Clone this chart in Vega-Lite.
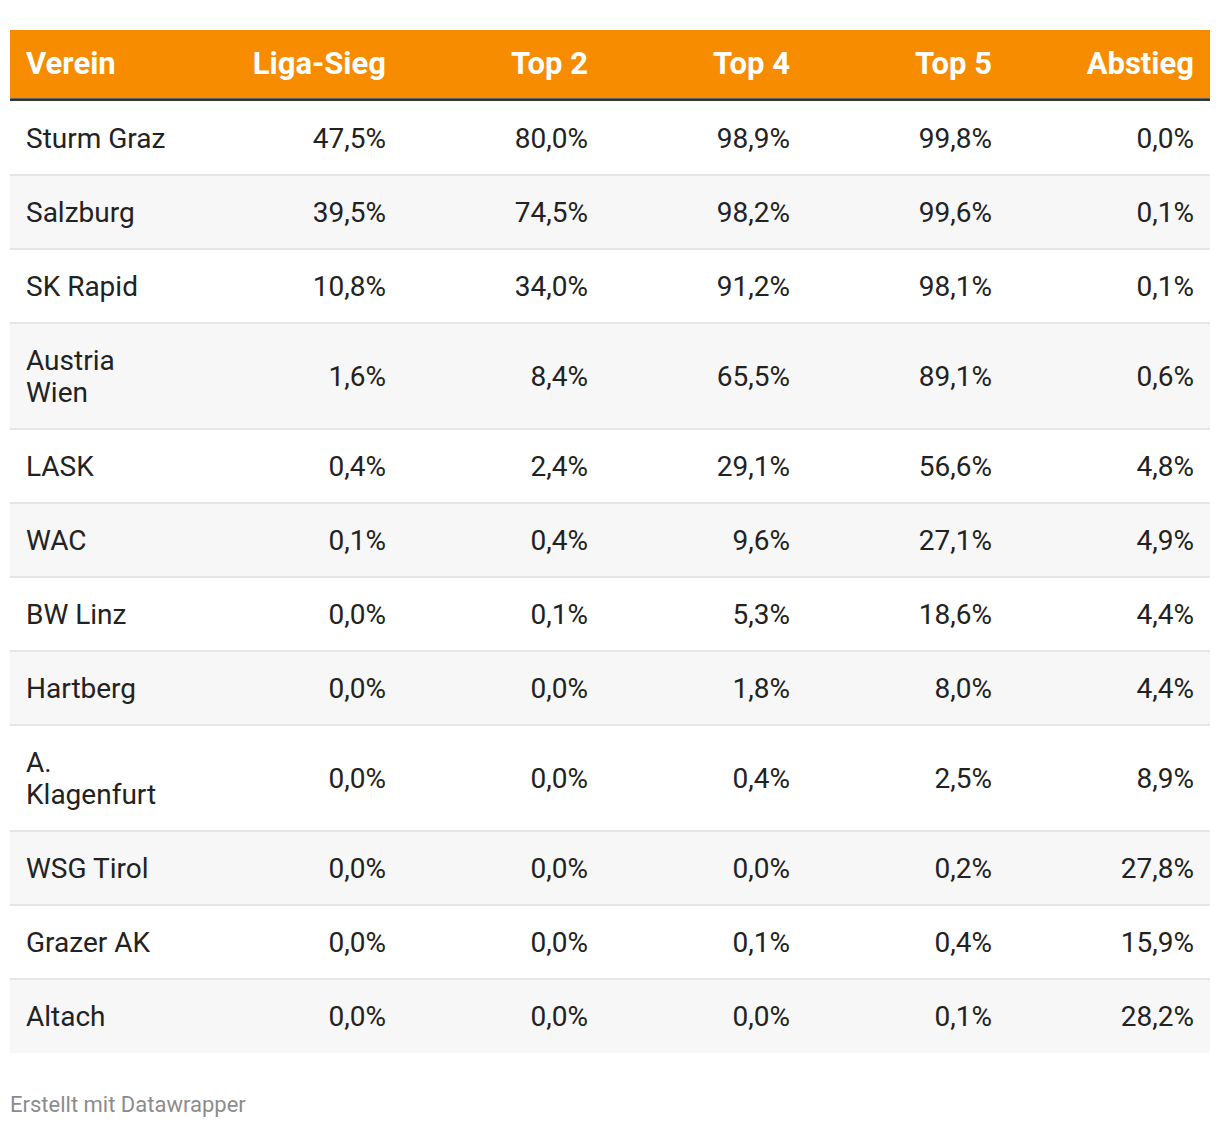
{
  "$schema": "https://vega.github.io/schema/vega-lite/v6.json",
  "width": 1220,
  "height": 1128,
  "autosize": {"type": "fit", "contains": "padding"},
  "padding": 0,
  "background": "#ffffff",
  "config": {"view": {"stroke": null}, "font": "Roboto"},
  "datasets": {
    "rows": [
      {"Verein": "Sturm Graz", "Liga-Sieg": 47.5, "Top 2": 80.0, "Top 4": 98.9, "Top 5": 99.8, "Abstieg": 0.0},
      {"Verein": "Salzburg", "Liga-Sieg": 39.5, "Top 2": 74.5, "Top 4": 98.2, "Top 5": 99.6, "Abstieg": 0.1},
      {"Verein": "SK Rapid", "Liga-Sieg": 10.8, "Top 2": 34.0, "Top 4": 91.2, "Top 5": 98.1, "Abstieg": 0.1},
      {"Verein": "Austria\nWien", "Liga-Sieg": 1.6, "Top 2": 8.4, "Top 4": 65.5, "Top 5": 89.1, "Abstieg": 0.6},
      {"Verein": "LASK", "Liga-Sieg": 0.4, "Top 2": 2.4, "Top 4": 29.1, "Top 5": 56.6, "Abstieg": 4.8},
      {"Verein": "WAC", "Liga-Sieg": 0.1, "Top 2": 0.4, "Top 4": 9.6, "Top 5": 27.1, "Abstieg": 4.9},
      {"Verein": "BW Linz", "Liga-Sieg": 0.0, "Top 2": 0.1, "Top 4": 5.3, "Top 5": 18.6, "Abstieg": 4.4},
      {"Verein": "Hartberg", "Liga-Sieg": 0.0, "Top 2": 0.0, "Top 4": 1.8, "Top 5": 8.0, "Abstieg": 4.4},
      {"Verein": "A.\nKlagenfurt", "Liga-Sieg": 0.0, "Top 2": 0.0, "Top 4": 0.4, "Top 5": 2.5, "Abstieg": 8.9},
      {"Verein": "WSG Tirol", "Liga-Sieg": 0.0, "Top 2": 0.0, "Top 4": 0.0, "Top 5": 0.2, "Abstieg": 27.8},
      {"Verein": "Grazer AK", "Liga-Sieg": 0.0, "Top 2": 0.0, "Top 4": 0.1, "Top 5": 0.4, "Abstieg": 15.9},
      {"Verein": "Altach", "Liga-Sieg": 0.0, "Top 2": 0.0, "Top 4": 0.0, "Top 5": 0.1, "Abstieg": 28.2}
    ],
    "header": [
      {"col": "Liga-Sieg"}, {"col": "Top 2"}, {"col": "Top 4"}, {"col": "Top 5"}, {"col": "Abstieg"}
    ],
    "first": [{"col": "Verein"}],
    "footer": [{"note": "Erstellt mit Datawrapper"}]
  },
  "resolve": {"scale": {"x": "independent"}},
  "layer": [
    {
      "data": {"name": "first"},
      "mark": {"type": "rect", "color": "#f88c00"},
      "encoding": {
        "x": {"datum": 10, "type": "quantitative", "scale": {"domain": [0, 1220]}, "axis": null},
        "x2": {"datum": 1210},
        "y": {"datum": 30, "type": "quantitative", "scale": {"domain": [0, 1128], "reverse": true}, "axis": null},
        "y2": {"datum": 98}
      }
    },
    {
      "data": {"name": "first"},
      "mark": {"type": "rule", "color": "#333333", "strokeWidth": 3.5},
      "encoding": {
        "x": {"datum": 10, "type": "quantitative", "scale": {"domain": [0, 1220]}, "axis": null},
        "x2": {"datum": 1210},
        "y": {"datum": 100, "type": "quantitative", "scale": {"domain": [0, 1128], "reverse": true}, "axis": null}
      }
    },
    {
      "data": {"name": "first"},
      "mark": {"type": "text", "align": "left", "baseline": "middle", "fontSize": 31, "fontWeight": "bold", "color": "#ffffff", "dy": 0.5},
      "encoding": {
        "x": {"value": 26},
        "y": {"datum": 64, "type": "quantitative", "scale": {"domain": [0, 1128], "reverse": true}, "axis": null},
        "text": {"field": "col"}
      }
    },
    {
      "data": {"name": "header"},
      "mark": {"type": "text", "align": "right", "baseline": "middle", "fontSize": 31, "fontWeight": "bold", "color": "#ffffff", "dy": 0.5},
      "encoding": {
        "x": {"field": "col", "type": "nominal", "sort": null, "scale": {"type": "point", "domain": ["Liga-Sieg", "Top 2", "Top 4", "Top 5", "Abstieg"], "range": [386, 1194], "padding": 0}, "axis": null},
        "y": {"datum": 64, "type": "quantitative", "scale": {"domain": [0, 1128], "reverse": true}, "axis": null},
        "text": {"field": "col"}
      }
    },
    {
      "data": {"name": "rows"},
      "transform": [
        {"window": [{"op": "row_number", "as": "idx"}]},
        {"calculate": "length(split(datum.Verein, '\\n'))", "as": "nl"},
        {"calculate": "42 + 32 * datum.nl", "as": "h"},
        {"window": [{"op": "sum", "field": "h", "as": "cum"}], "sort": [{"field": "idx"}], "frame": [null, 0]},
        {"calculate": "101 + datum.cum - datum.h", "as": "top"},
        {"calculate": "101 + datum.cum", "as": "bottom"},
        {"calculate": "(datum.top + datum.bottom) / 2", "as": "mid"},
        {"calculate": "datum.mid - 16 * (datum.nl - 1)", "as": "nameY"}
      ],
      "layer": [
        {
          "mark": {"type": "rect"},
          "encoding": {
            "x": {"datum": 10, "type": "quantitative", "scale": {"domain": [0, 1220]}, "axis": null},
            "x2": {"datum": 1210},
            "y": {"field": "top", "type": "quantitative", "scale": {"domain": [0, 1128], "reverse": true}, "axis": null},
            "y2": {"field": "bottom"},
            "color": {"condition": {"test": "datum.idx % 2 == 0", "value": "#f7f7f7"}, "value": "#ffffff"}
          }
        },
        {
          "transform": [{"filter": "datum.idx > 1"}],
          "mark": {"type": "rule", "color": "#e6e6e6", "strokeWidth": 2},
          "encoding": {
            "x": {"datum": 10, "type": "quantitative", "scale": {"domain": [0, 1220]}, "axis": null},
            "x2": {"datum": 1210},
            "y": {"field": "top", "type": "quantitative", "scale": {"domain": [0, 1128], "reverse": true}, "axis": null}
          }
        },
        {
          "mark": {"type": "text", "align": "left", "baseline": "middle", "fontSize": 28, "lineHeight": 32, "lineBreak": "\n", "color": "#222222", "dy": 1.5},
          "encoding": {
            "x": {"value": 26},
            "y": {"field": "nameY", "type": "quantitative", "scale": {"domain": [0, 1128], "reverse": true}, "axis": null},
            "text": {"field": "Verein"}
          }
        },
        {
          "transform": [
            {"fold": ["Liga-Sieg", "Top 2", "Top 4", "Top 5", "Abstieg"], "as": ["key", "value"]},
            {"calculate": "replace(format(datum.value, '.1f'), '.', ',') + '%'", "as": "label"}
          ],
          "mark": {"type": "text", "align": "right", "baseline": "middle", "fontSize": 28, "color": "#222222", "dy": 1.5},
          "encoding": {
            "x": {"field": "key", "type": "nominal", "sort": null, "scale": {"type": "point", "domain": ["Liga-Sieg", "Top 2", "Top 4", "Top 5", "Abstieg"], "range": [386, 1194], "padding": 0}, "axis": null},
            "y": {"field": "mid", "type": "quantitative", "scale": {"domain": [0, 1128], "reverse": true}, "axis": null},
            "text": {"field": "label"}
          }
        }
      ]
    },
    {
      "data": {"name": "footer"},
      "mark": {"type": "text", "align": "left", "baseline": "middle", "fontSize": 22, "color": "#8c8c8c"},
      "encoding": {
        "x": {"value": 10},
        "y": {"datum": 1105, "type": "quantitative", "scale": {"domain": [0, 1128], "reverse": true}, "axis": null},
        "text": {"field": "note"}
      }
    }
  ]
}
